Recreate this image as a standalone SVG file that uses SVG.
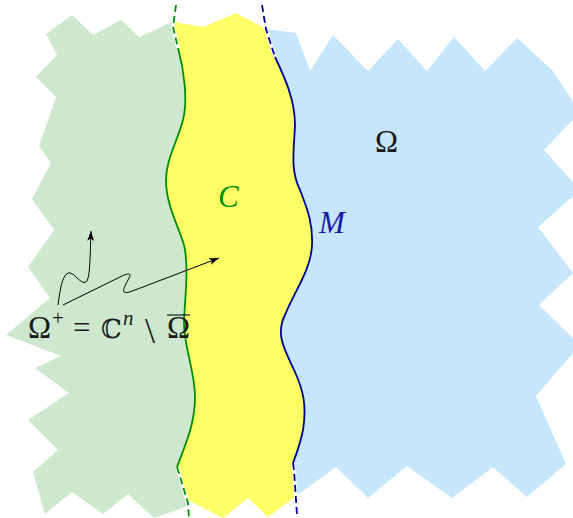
<svg xmlns="http://www.w3.org/2000/svg" width="573" height="518" viewBox="0 0 573 518">
<style>
.lbl{font-family:"Liberation Serif","DejaVu Serif",serif;font-size:31px;fill:#1a1a1a}
.it{font-style:italic}
.cg{stroke:#008f00;stroke-width:1.8;fill:none}
.cb{stroke:#00009a;stroke-width:1.8;fill:none}
.dash{stroke-dasharray:7 4}
.bk{stroke:#ffffff;stroke-width:3.5;fill:none}
.arr{stroke:#000;stroke-width:1;fill:none;marker-end:url(#ah)}
</style>
<defs>
<marker id="ah" markerUnits="userSpaceOnUse" markerWidth="12" markerHeight="8" refX="10" refY="3.5" orient="auto">
<path d="M0,0 L10,3.5 L0,7 L2.5,3.5 z" fill="#000"/>
</marker>
</defs>
<g id="omega-region">
<polygon fill="#c5e6fd" points="266,29 296,33 310,71 333,35 368,71 398,39 427,71 454,37 485,71 517,38 552,70 580,112 544,150 580,190 538,227 573,273 539,305 580,345 536,396 566,464 527,497 493,467 452,498 407,466 368,498 336,467 296,496 293,463 265,455 262,60"/>
</g>
<g id="omega-plus-region">
<polygon fill="#cde8ce" points="46,34 72,15 93,35 121,20 139,37 172,22 174,27 179,48 200,60 200,460 178,467 188,506 154,518 128,494 103,514 72,492 45,514 33,472 58,450 28,420 69,393 35,368 61,356 6,335 50,298 28,267 54,230 32,199 51,163 39,146 56,97 36,77 57,55"/>
</g>
<g id="collar-region">
<path fill="#ffff66" d="M174,22 L204,27 L236,13 L266,29 L275,57 C285,78 295,100 295,125 C294,150 290,170 300,190 C308,210 313,225 312,245 C311,270 295,290 285,315 C275,335 285,350 295,372 C303,390 307,405 303,430 C300,445 296,455 293,463 L296,496 L268,517 L248,498 L223,518 L188,500 L178,473 L177,467 C185,445 195,425 195,397 C195,370 183,345 184,320 C185,300 189,265 184,245 C178,225 166,205 166,180 C166,160 176,145 183,120 C188,100 184,70 178,48 Z"/>
</g>
<g id="connectors">
<polyline class="bk" points="176,5 173,27 178,48"/>
<polyline class="bk" points="177,467 188,503 189,518"/>
<polyline class="bk" points="262,5 266,29 275,57"/>
<polyline class="bk" points="293,463 294,470 297,515"/>
<polyline class="cg dash" points="176,5 173,27 178,48"/>
<polyline class="cg dash" points="177,467 188,503 189,518"/>
<polyline class="cb dash" points="262,5 266,29 275,57"/>
<polyline class="cb dash" points="293,463 294,470 297,515"/>
<path class="cg" d="M178,48 C184,70 188,100 183,120 C176,145 166,160 166,180 C166,205 178,225 184,245 C189,265 185,300 184,320 C183,345 195,370 195,397 C195,425 185,445 177,467"/>
<path class="cb" d="M275,57 C285,78 295,100 295,125 C294,150 290,170 300,190 C308,210 313,225 312,245 C311,270 295,290 285,315 C275,335 285,350 295,372 C303,390 307,405 303,430 C300,445 296,455 293,463"/>
<path class="arr" d="M58,305 C60,290 62,276 68,273 C74,271 80,285 86,282 C90,279 90,260 91,231"/>
<path class="arr" d="M63,305 L120,277 C128,273 133,272 128,280 C124,288 118,297 135,290 L219,258"/>
</g>
<g id="labels">
<text class="lbl" x="375" y="152">Ω</text>
<text class="lbl it" x="218" y="207" style="fill:#009000">C</text>
<text class="lbl it" x="319" y="233" style="fill:#1a1aa8">M</text>
<text class="lbl" y="338"><tspan x="28">Ω</tspan><tspan x="52" y="325" style="font-size:21px">+</tspan><tspan x="73" y="338">=</tspan><tspan x="101" y="338" style="font-family:'DejaVu Serif',serif;font-size:26px">ℂ</tspan><tspan x="123" y="325" class="it" style="font-size:21px">n</tspan><tspan x="145" y="343" style="font-size:36px">\</tspan><tspan x="167" y="338">Ω</tspan></text>
<line x1="167" y1="315" x2="190" y2="315" stroke="#1a1a1a" stroke-width="1.2"/>
</g>
</svg>
